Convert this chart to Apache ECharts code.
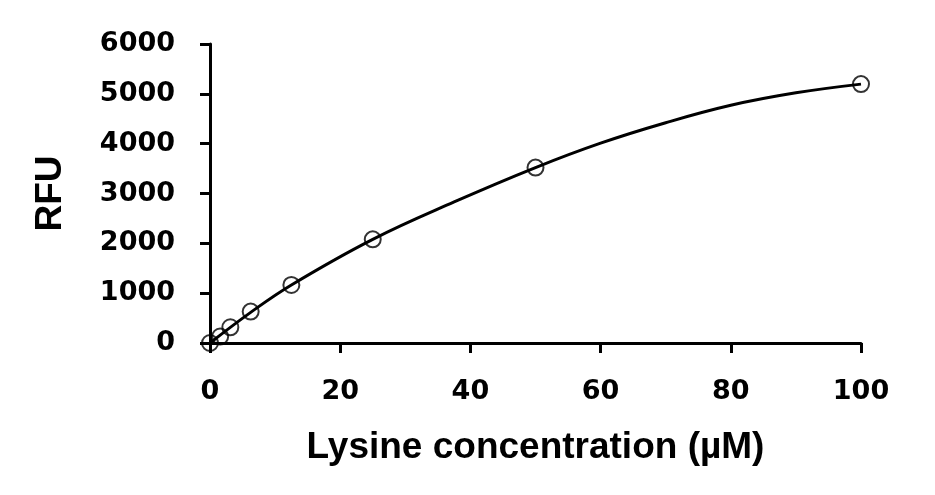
<!DOCTYPE html>
<html>
<head>
<meta charset="utf-8">
<script src="https://cdn.jsdelivr.net/npm/echarts@6/dist/echarts.min.js"></script>
<style>html,body{margin:0;padding:0;background:#fff}#c{width:935px;height:495px}</style>
</head>
<body>
<div id="c"></div>
<script>
// measured concentrations (µM) and fluorescence (RFU)
const concentrations = [0, 1.5625, 3.125, 6.25, 12.5, 25, 50, 100];
const rfu = [0, 130, 315, 630, 1165, 2080, 3520, 5195];
// fitted trend curve
const curveX = [0, 6.25, 12.5, 25, 37.5, 50, 60, 70, 80, 90, 100];
const curveY = [0, 615, 1165, 2080, 2830, 3520, 4010, 4420, 4770, 5020, 5195];
const xTitle = 'Lysine concentration (µM)';
const yTitle = 'RFU';

const chart = echarts.init(document.getElementById('c'));
const tickFont = {fontFamily: 'DejaVu Sans', fontWeight: 'bold', fontSize: 27, color: '#000'};
const titleFont = {fontFamily: 'Liberation Sans', fontWeight: 'bold', fontSize: 37, color: '#000'};
chart.setOption({
  animation: false,
  backgroundColor: '#fff',
  grid: {left: 210, right: 74, top: 44, bottom: 152, containLabel: false},
  xAxis: {
    type: 'value', min: 0, max: 100, interval: 20,
    name: xTitle, nameLocation: 'middle', nameGap: 86, nameTextStyle: titleFont,
    axisLine: {show: true, onZero: false, lineStyle: {color: '#000', width: 3}},
    axisTick: {show: true, length: 10, lineStyle: {color: '#000', width: 3}},
    axisLabel: Object.assign({margin: 35, formatter: v => String(v)}, tickFont),
    splitLine: {show: false}
  },
  yAxis: {
    type: 'value', min: 0, max: 6000, interval: 1000,
    name: yTitle, nameLocation: 'middle', nameGap: 141, nameRotate: 90, nameTextStyle: titleFont,
    axisLine: {show: true, onZero: false, lineStyle: {color: '#000', width: 3}},
    axisTick: {show: true, length: 10, lineStyle: {color: '#000', width: 3}},
    axisLabel: Object.assign({margin: 35, formatter: v => String(v)}, tickFont),
    splitLine: {show: false}
  },
  series: [
    {
      type: 'line', data: curveX.map((x, i) => [x, curveY[i]]),
      smooth: 0.4, showSymbol: false, symbol: 'none',
      lineStyle: {color: '#000', width: 3}, z: 2, silent: true
    },
    {
      type: 'scatter', data: concentrations.map((x, i) => [x, rfu[i]]),
      symbol: 'circle', symbolSize: 16,
      itemStyle: {color: 'rgba(255,255,255,0)', borderColor: '#000', borderWidth: 2},
      z: 3
    }
  ]
});
</script>
</body>
</html>
